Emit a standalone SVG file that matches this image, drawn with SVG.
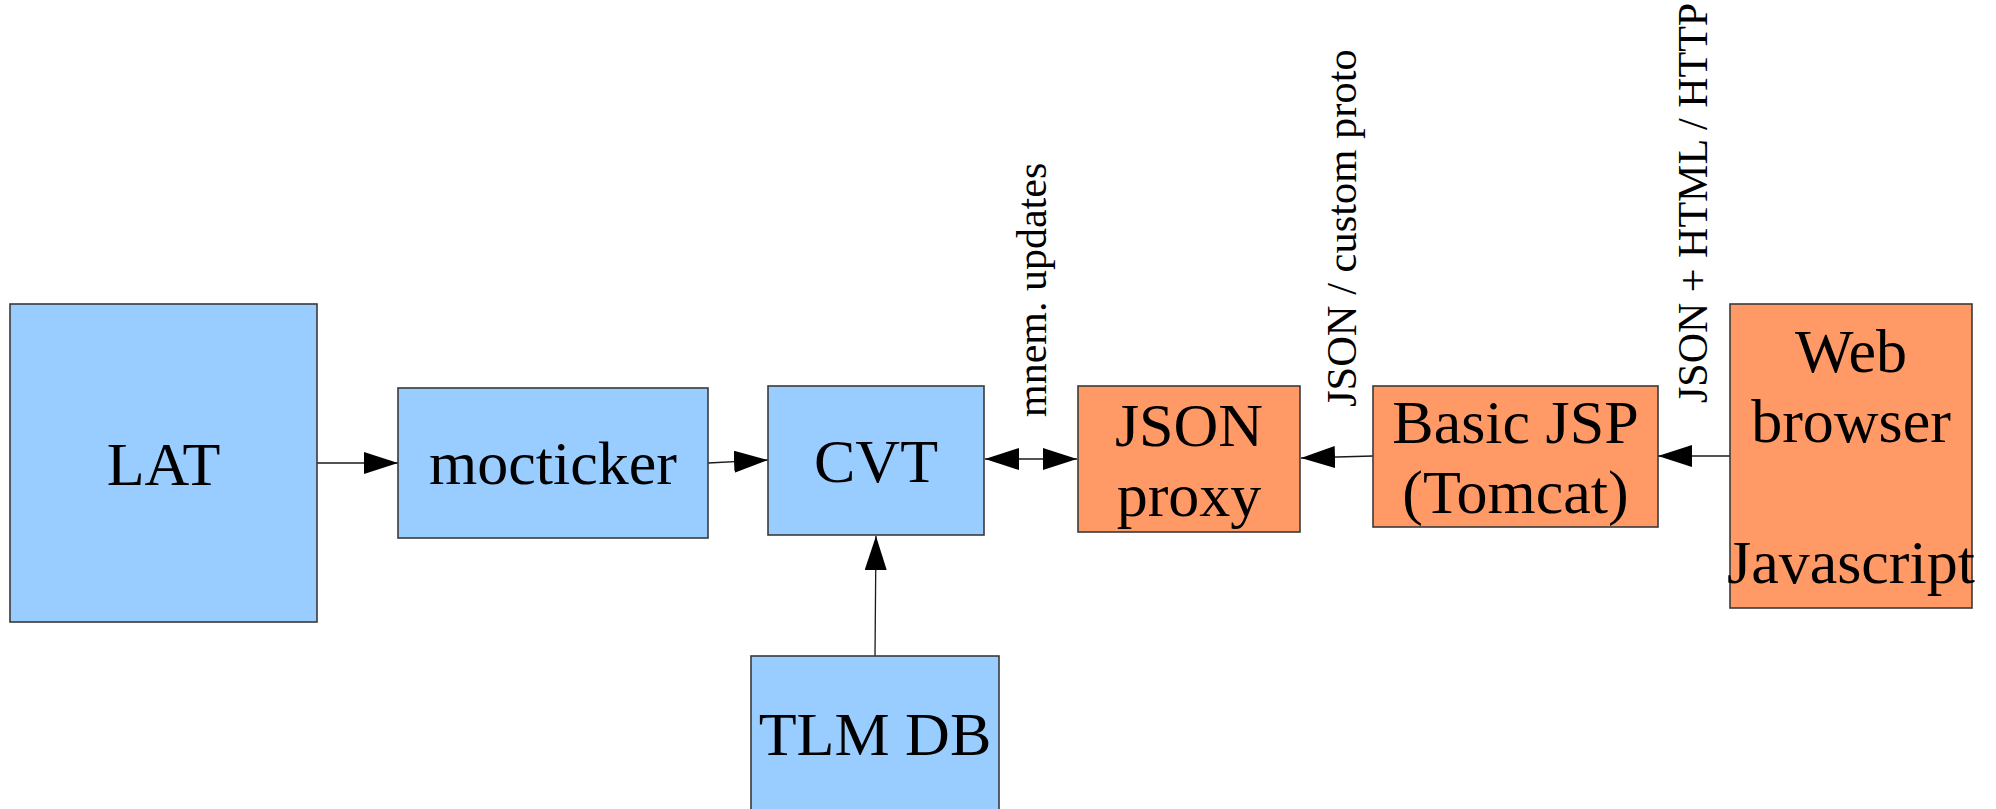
<svg xmlns="http://www.w3.org/2000/svg" width="1996" height="809" viewBox="0 0 1996 809">
<style>
.box{stroke:#3a3a3a;stroke-width:1.6}
.blue{fill:#99ccff}
.orange{fill:#ff9966}
.lbl{font-family:"Liberation Serif","Times New Roman",serif;font-size:62px;fill:#000;text-anchor:middle}
.side{font-family:"Liberation Serif","Times New Roman",serif;fill:#000}
.conn{stroke:#1a1a1a;stroke-width:1.3;fill:none}
</style>
<defs>
<marker id="ah" markerUnits="userSpaceOnUse" markerWidth="34" markerHeight="22" refX="34" refY="11" orient="auto-start-reverse" viewBox="0 0 34 22">
<path d="M0,0 L34,11 L0,22 z" fill="#000"/>
</marker>
</defs>
<rect width="1996" height="809" fill="#fff"/>
<g id="connectors">
<line class="conn" x1="317" y1="463" x2="398" y2="463" marker-end="url(#ah)"/>
<line class="conn" x1="708" y1="463" x2="768" y2="460" marker-end="url(#ah)"/>
<line class="conn" x1="985" y1="459" x2="1077" y2="459" marker-start="url(#ah)" marker-end="url(#ah)"/>
<line class="conn" x1="875" y1="656" x2="876" y2="536" marker-end="url(#ah)"/>
<line class="conn" x1="1373" y1="456" x2="1301" y2="458" marker-end="url(#ah)"/>
<line class="conn" x1="1730" y1="456" x2="1658" y2="456" marker-end="url(#ah)"/>
</g>
<g id="node-lat">
<rect class="box blue" x="10" y="304" width="307" height="318"/>
<text class="lbl" x="163.5" y="485">LAT</text>
</g>
<g id="node-mocticker">
<rect class="box blue" x="398" y="388" width="310" height="150"/>
<text class="lbl" x="553" y="484">mocticker</text>
</g>
<g id="node-cvt">
<rect class="box blue" x="768" y="386" width="216" height="149"/>
<text class="lbl" x="876" y="482">CVT</text>
</g>
<g id="node-tlmdb">
<rect class="box blue" x="751" y="656" width="248" height="200"/>
<text class="lbl" x="875" y="755">TLM DB</text>
</g>
<g id="node-jsonproxy">
<rect class="box orange" x="1078" y="386" width="222" height="146"/>
<text class="lbl" x="1189" y="446">JSON</text>
<text class="lbl" x="1189" y="516">proxy</text>
</g>
<g id="node-basicjsp">
<rect class="box orange" x="1373" y="386" width="285" height="141"/>
<text class="lbl" x="1515.5" y="443">Basic JSP</text>
<text class="lbl" x="1515.5" y="513">(Tomcat)</text>
</g>
<g id="node-webbrowser">
<rect class="box orange" x="1730" y="304" width="242" height="304"/>
<text class="lbl" x="1851" y="372">Web</text>
<text class="lbl" x="1851" y="442">browser</text>
<text class="lbl" x="1851" y="583">Javascript</text>
</g>
<g id="labels">
<text class="side" font-size="42" transform="translate(1046,417) rotate(-90)">mnem. updates</text>
<text class="side" font-size="42.5" transform="translate(1356,407) rotate(-90)">JSON / custom proto</text>
<text class="side" font-size="42" transform="translate(1707,403) rotate(-90)">JSON + HTML / HTTP</text>
</g>
</svg>
